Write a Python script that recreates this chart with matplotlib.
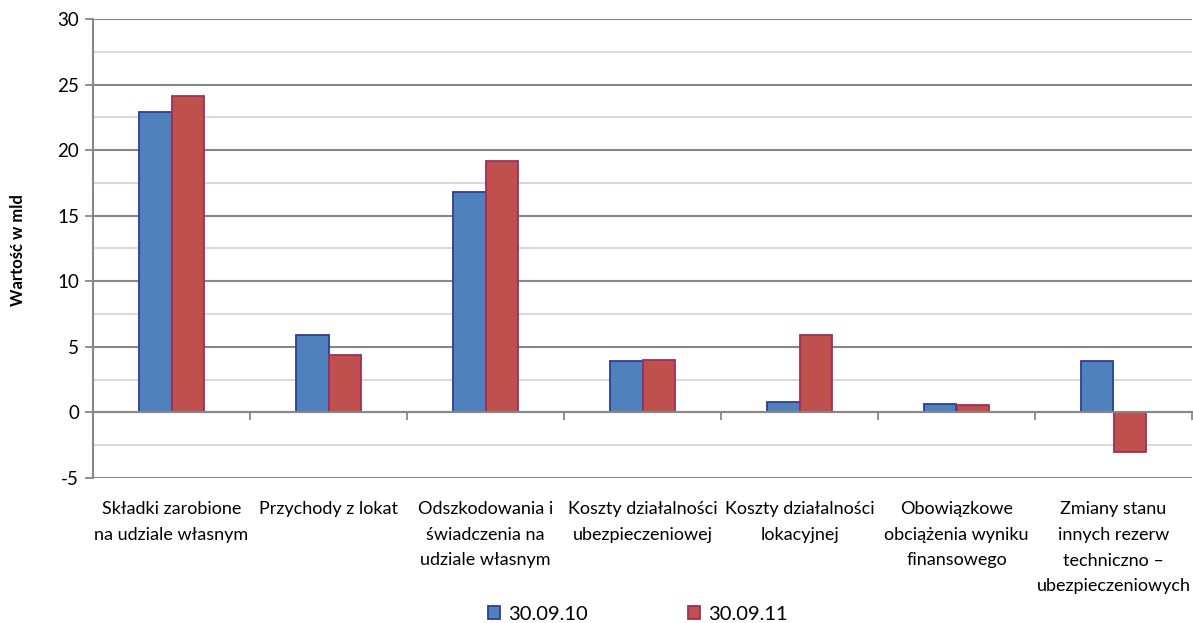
import matplotlib
matplotlib.use('Agg')
import matplotlib.pyplot as plt
from matplotlib.patches import Patch
from matplotlib.transforms import blended_transform_factory
import numpy as np

plt.rcParams['font.family'] = ['Lato', 'DejaVu Sans']
plt.rcParams['axes.unicode_minus'] = False

# dane
kategorie = ['Składki zarobione\nna udziale własnym',
             'Przychody z lokat',
             'Odszkodowania i\nświadczenia na\nudziale własnym',
             'Koszty działalności\nubezpieczeniowej',
             'Koszty działalności\nlokacyjnej',
             'Obowiązkowe\nobciążenia wyniku\nfinansowego',
             'Zmiany stanu\ninnych rezerw\ntechniczno –\nubezpieczeniowych']
seria_2010 = [22.9, 5.9, 16.8, 3.9, 0.8, 0.65, 3.9]
seria_2011 = [24.1, 4.4, 19.2, 4.0, 5.9, 0.55, -3.0]
etykiety = ['30.09.10', '30.09.11']

kolor_nieb = '#4F81BD'
kolor_czer = '#C0504D'
obrys_nieb = '#2E3C9C'
obrys_czer = '#9C2F5C'

fig = plt.figure(figsize=(11.93, 6.23), dpi=100)
ax = fig.add_axes([93/1193, 1-478/623, 1099/1193, 459/623])

x = np.arange(len(kategorie))
w = 0.207
ax.bar(x - w/2, seria_2010, w, color=kolor_nieb, edgecolor=obrys_nieb, linewidth=1.3, zorder=3)
ax.bar(x + w/2, seria_2011, w, color=kolor_czer, edgecolor=obrys_czer, linewidth=1.3, zorder=3)

ax.set_xlim(-0.5, len(kategorie) - 0.5)
ax.set_ylim(-5, 30)
ax.set_yticks(np.arange(-5, 31, 5))
ax.set_yticks(np.arange(-2.5, 30, 5), minor=True)
ax.yaxis.grid(True, which='major', color='#878787', linewidth=1.5, zorder=0)
ax.yaxis.grid(True, which='minor', color='#D9D9D9', linewidth=1.5, zorder=0)
ax.tick_params(axis='y', which='major', length=6, width=1.3, color='#878787', labelsize=13.5, pad=4)
ax.tick_params(axis='y', which='minor', length=0)

# os X na poziomie zera
for s in ['top', 'right']:
    ax.spines[s].set_visible(False)
ax.spines['left'].set_color('#878787')
ax.spines['left'].set_linewidth(1.5)
ax.spines['bottom'].set_position(('data', 0))
ax.spines['bottom'].set_color('#878787')
ax.spines['bottom'].set_linewidth(1.5)
ax.spines['bottom'].set_zorder(4)
ax.set_xticks(np.arange(0.5, len(kategorie), 1))
ax.set_xticklabels([])
ax.tick_params(axis='x', length=6, width=1.3, color='#878787')

trans = blended_transform_factory(ax.transData, fig.transFigure)
for i, k in enumerate(kategorie):
    ax.text(i, 1-501/623, k, transform=trans, ha='center', va='top',
            fontsize=13, linespacing=1.75, color='black')

fig.text(18/1193, 1-250/623, 'Wartość w mld', rotation=90, ha='center', va='center',
         fontsize=12, fontweight='bold')

uchwyty = [Patch(facecolor=kolor_nieb, edgecolor=obrys_nieb, linewidth=1.3),
           Patch(facecolor=kolor_czer, edgecolor=obrys_czer, linewidth=1.3)]
fig.legend(uchwyty, etykiety, loc='center', bbox_to_anchor=(638/1193, 1-614/623),
           ncol=2, frameon=False, fontsize=14.5, handlelength=0.6, handleheight=0.6,
           handletextpad=0.4, columnspacing=5.0, borderpad=0)

fig.savefig('out.png', dpi=100)
